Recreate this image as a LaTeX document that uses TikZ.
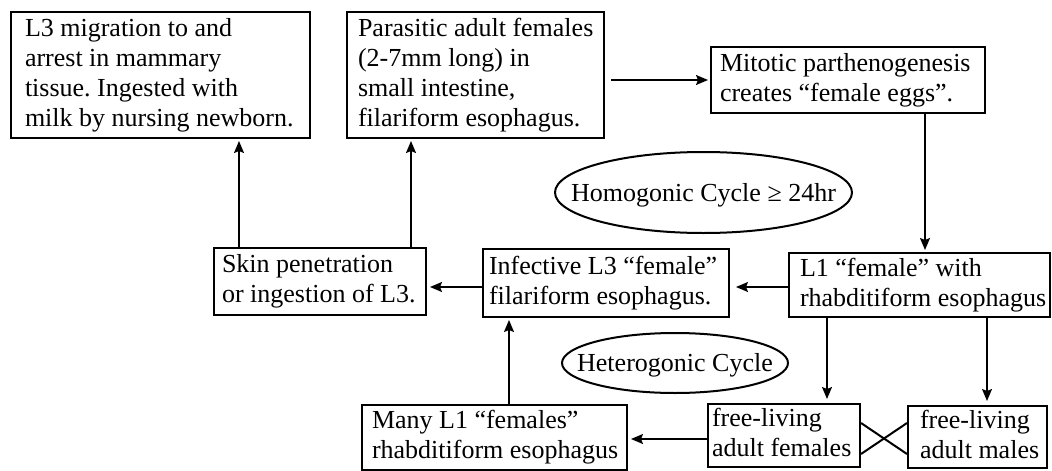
\documentclass[tikz,border=0pt]{standalone}
\usepackage{fontspec}
\setmainfont{Liberation Serif}
\usetikzlibrary{arrows.meta}
\frenchspacing
\newcommand\bxt[3]{\makebox[#2pt][l]{\hspace*{#1pt}\begin{tabular}{@{}l@{}}#3\end{tabular}}}
\begin{document}
\begin{tikzpicture}[x=1pt,y=-1pt,
  box/.style={draw, line width=2pt, rectangle, inner sep=0pt, font=\fontsize{26}{30}\selectfont},
  ovaltext/.style={inner sep=0pt, font=\fontsize{26}{30}\selectfont},
  ovalline/.style={line width=2pt},
  arr/.style={line width=1.5pt, -{Stealth[length=12pt,width=10pt,inset=2pt]}, shorten >=2pt},
  link/.style={line width=2pt}
]
\useasboundingbox (0,0) rectangle (1052,471);

\node[box, minimum width=299pt, minimum height=126pt] (A) at (160.5,75)
  {\bxt{14}{299}{L3 migration to and\\arrest in mammary\\tissue. Ingested with\\milk by nursing newborn.}};
\node[box, minimum width=257pt, minimum height=126pt] (B) at (475.5,75)
  {\bxt{11}{257}{Parasitic adult females\\(2-7mm long) in\\small intestine,\\filariform esophagus.}};
\node[box, minimum width=274pt, minimum height=66pt] (C) at (848,80)
  {\bxt{9}{274}{Mitotic parthenogenesis\\creates “female eggs”.}};
\node[box, minimum width=261pt, minimum height=64pt] (D) at (919.5,285)
  {\bxt{11}{261}{L1 “female” with\\rhabditiform esophagus}};
\node[box, minimum width=246pt, minimum height=68pt] (E) at (606,283)
  {\bxt{6}{246}{Infective L3 “female”\\filariform esophagus.}};
\node[box, minimum width=212pt, minimum height=67pt] (F) at (320,281.5)
  {\bxt{8}{212}{Skin penetration\\or ingestion of L3.}};
\node[box, minimum width=265pt, minimum height=65pt] (G) at (494.5,437.5)
  {\bxt{10}{265}{Many L1 “females”\\rhabditiform esophagus}};
\node[box, minimum width=152pt, minimum height=63pt] (H) at (784,435.5)
  {\bxt{4}{152}{free-living\\adult females}};
\node[box, minimum width=139pt, minimum height=62pt] (I) at (977.5,437)
  {\bxt{12}{139}{free-living\\adult males}};

\node[ovaltext] (hom) at (703.5,195) {Homogonic Cycle ≥ 24hr};
\draw[ovalline] (703.5,192.5) ellipse [x radius=148.5pt, y radius=40.5pt];
\node[ovaltext] (het) at (675,365) {Heterogonic Cycle};
\draw[ovalline] (675,363) ellipse [x radius=113pt, y radius=30pt];

\draw[arr, shorten <=6pt] (B.east |- C.west) -- (C.west);
\draw[arr] (925,0 |- C.south) -- (925,0 |- D.north);
\draw[arr, shorten >=6pt] (D.west |- 0,287) -- (E.east |- 0,287);
\draw[arr, shorten >=3pt] (E.west |- 0,287) -- (F.east |- 0,287);
\draw[arr] (239,0 |- F.north) -- (239,0 |- A.south);
\draw[arr] (411,0 |- F.north) -- (411,0 |- B.south);
\draw[arr] (509,0 |- G.north) -- (509,0 |- E.south);
\draw[arr, shorten >=3pt] (H.west |- 0,439) -- (G.east |- 0,439);
\draw[arr, shorten >=4pt] (827,0 |- D.south) -- (827,0 |- H.north);
\draw[arr, shorten >=4pt] (987,0 |- D.south) -- (987,0 |- I.north);
\draw[link] (H.east |- 0,423) -- (I.west |- 0,454);
\draw[link] (H.east |- 0,454) -- (I.west |- 0,423);
\end{tikzpicture}
\end{document}
